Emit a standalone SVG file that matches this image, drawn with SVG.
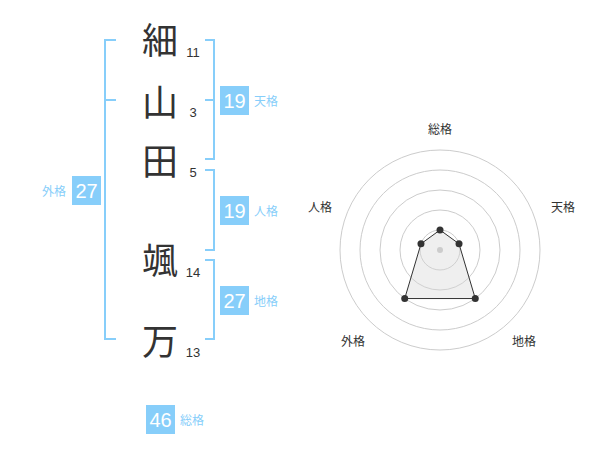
<svg xmlns="http://www.w3.org/2000/svg" width="600" height="470" viewBox="0 0 600 470">
<style>
.ch{font-family:"Noto Sans CJK JP","Noto Sans CJK SC",sans-serif;font-size:36px;fill:#333;text-anchor:middle}
.num{font-family:"Liberation Sans",Arial,sans-serif;font-size:13px;fill:#333;text-anchor:middle}
.br{fill:none;stroke:#87cefa;stroke-width:2}
.box{fill:#87cefa}
.bn{font-family:"Liberation Sans",Arial,sans-serif;font-size:20px;fill:#fff;text-anchor:middle}
.lb{font-family:"Noto Sans CJK JP",sans-serif;font-size:12px;fill:#87cefa}
.ring{fill:none;stroke:#ccc;stroke-width:1}
.rl{font-family:"Noto Sans CJK JP",sans-serif;font-size:12px;fill:#333;text-anchor:middle}
</style>
<rect width="600" height="470" fill="#fff"/>
<g id="connectors">
<path class="br" d="M116,40 H105 V339 H116 M105,100 H116"/>
<path class="br" d="M205,40 H214 V159 H205 M214,100 H205"/>
<path class="br" d="M205,170 H214 V250 H205"/>
<path class="br" d="M205,260 H214 V339 H205"/>
</g>
<g id="char1"><text class="ch" x="160" y="54">細</text><text class="num" x="193" y="57">11</text></g>
<g id="char2"><text class="ch" x="160" y="116">山</text><text class="num" x="193" y="117">3</text></g>
<g id="char3"><text class="ch" x="160" y="175">田</text><text class="num" x="193" y="177">5</text></g>
<g id="char4"><text class="ch" x="160" y="274">颯</text><text class="num" x="193" y="277">14</text></g>
<g id="char5"><text class="ch" x="160" y="355">万</text><text class="num" x="193" y="357">13</text></g>
<g id="tenkaku"><rect class="box" x="220" y="86" width="29" height="29"/><text class="bn" x="234.5" y="108">19</text><text class="lb" x="254" y="106">天格</text></g>
<g id="jinkaku"><rect class="box" x="220" y="196" width="29" height="29"/><text class="bn" x="234.5" y="218">19</text><text class="lb" x="254" y="216">人格</text></g>
<g id="chikaku"><rect class="box" x="220" y="286" width="29" height="29"/><text class="bn" x="234.5" y="308">27</text><text class="lb" x="254" y="306">地格</text></g>
<g id="gaikaku"><rect class="box" x="72" y="176" width="29" height="29"/><text class="bn" x="86.5" y="198">27</text><text class="lb" x="66" y="196" text-anchor="end">外格</text></g>
<g id="soukaku"><rect class="box" x="146" y="405" width="29" height="29"/><text class="bn" x="160.5" y="427">46</text><text class="lb" x="180" y="425">総格</text></g>
<g id="radar">
<circle class="ring" cx="440" cy="250" r="20"/>
<circle class="ring" cx="440" cy="250" r="40"/>
<circle class="ring" cx="440" cy="250" r="60"/>
<circle class="ring" cx="440" cy="250" r="80"/>
<circle class="ring" cx="440" cy="250" r="100"/>
<polygon points="440,230 459.02,243.82 475.27,298.54 404.73,298.54 420.98,243.82" fill="#d8d8d8" fill-opacity="0.4" stroke="#333" stroke-width="1"/>
<circle cx="440" cy="250" r="3" fill="#ccc"/>
<g fill="#333">
<circle cx="440" cy="230" r="3.5"/>
<circle cx="459.02" cy="243.82" r="3.5"/>
<circle cx="475.27" cy="298.54" r="3.5"/>
<circle cx="404.73" cy="298.54" r="3.5"/>
<circle cx="420.98" cy="243.82" r="3.5"/>
</g>
<text class="rl" x="440" y="134">総格</text>
<text class="rl" x="563" y="212">天格</text>
<text class="rl" x="524" y="346">地格</text>
<text class="rl" x="353" y="346">外格</text>
<text class="rl" x="320" y="212">人格</text>
</g>
</svg>
